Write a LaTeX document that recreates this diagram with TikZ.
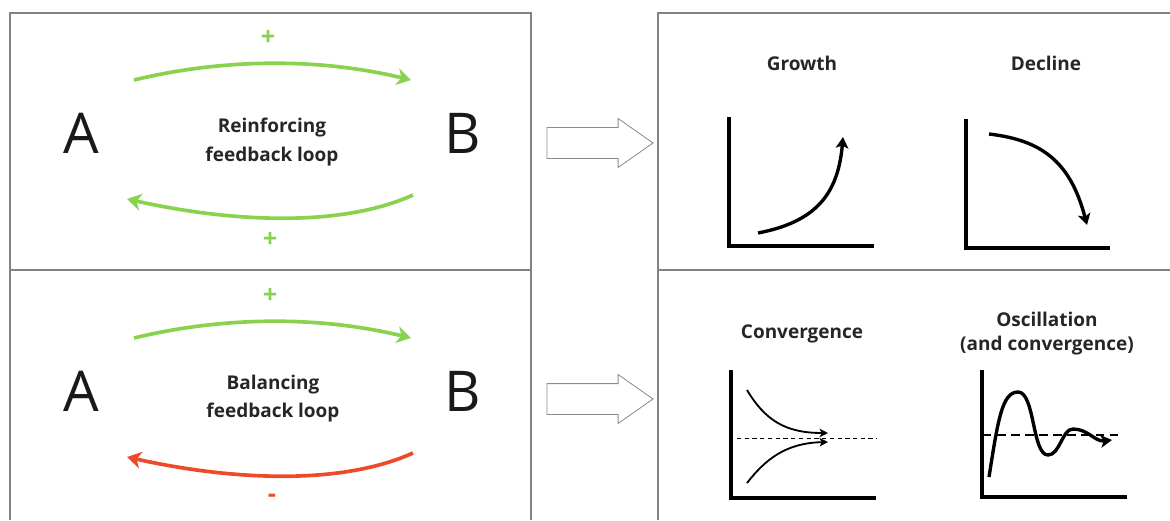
\documentclass[tikz,border=0pt]{standalone}
\usepackage{fontspec}
\setmainfont{Open Sans}
\usepackage{tikz}
\usetikzlibrary{arrows.meta, positioning, shapes.arrows}
\definecolor{loopgreen}{RGB}{136,210,80}
\definecolor{loopred}{RGB}{238,74,42}
\definecolor{framegray}{RGB}{130,130,130}
\tikzstyle{panel} = [draw=framegray, line width=0.8pt]
\tikzstyle{var} = [inner sep=0pt, font=\fontsize{40}{40}\selectfont, text=black!90]
\tikzstyle{title} = [inner sep=0pt, align=center, font=\bfseries\fontsize{13.5}{20}\selectfont, text=black!85]
\tikzstyle{sign} = [inner sep=0pt, font=\bfseries\fontsize{18}{18}\selectfont]
\tikzstyle{link} = [line width=2.6pt, -{Stealth[length=10pt, width=12pt, inset=3pt]}]
\tikzstyle{bigarrow} = [single arrow, draw=black!45, line width=0.6pt,
  inner xsep=0pt, inner ysep=0.375cm, minimum height=2.65cm,
  single arrow head extend=0.225cm, single arrow tip angle=70]
\tikzstyle{axis} = [line width=2.8pt]
\tikzstyle{trend} = [line width=2.4pt, -{Stealth[length=8pt, width=9pt, inset=2pt]}]
\tikzstyle{thin trend} = [line width=1.3pt, -{Stealth[length=6pt, width=6pt, inset=1.5pt]}]

\begin{document}
\begin{tikzpicture}[x=0.025cm, y=-0.025cm]
    \useasboundingbox (0,0) rectangle (1170,520);
    % frames
    \draw[panel] (10,520) -- (10,13) -- (531,13) -- (531,520);
    \draw[panel] (10,270) -- (531,270);
    \draw[panel] (658,520) -- (658,13) -- (1170,13);
    \draw[panel] (658,270) -- (1170,270);

    % reinforcing loop
    \node[var] (a1) at (81,133) {A};
    \node[var] (b1) at (463,133) {B};
    \node[title] (loop1) at (272,142) {Reinforcing\\feedback loop};
    \coordinate (a1out) at (134,80);
    \coordinate (b1in) at (411,80);
    \coordinate (b1out) at (413,195);
    \coordinate (a1in) at (127,199);
    \draw[link, loopgreen] (a1out) .. controls (225,58) and (320,58) .. (b1in);
    \draw[link, loopgreen] (b1out) .. controls (340,228) and (230,222) .. (a1in);
    \node[sign, loopgreen] (s1) at (268,38) {+};
    \node[sign, loopgreen] (s2) at (270,240) {+};

    % balancing loop
    \node[var] (a2) at (81,391) {A};
    \node[var] (b2) at (463,391) {B};
    \node[title] (loop2) at (273,399) {Balancing\\feedback loop};
    \coordinate (a2out) at (134,338);
    \coordinate (b2in) at (411,338);
    \coordinate (b2out) at (413,453);
    \coordinate (a2in) at (127,457);
    \draw[link, loopgreen] (a2out) .. controls (225,316) and (320,316) .. (b2in);
    \draw[link, loopred] (b2out) .. controls (340,486) and (230,480) .. (a2in);
    \node[sign, loopgreen] (s3) at (270,296) {+};
    \node[sign, loopred] (s4) at (272,498) {-};

    % arrows to behaviour
    \node[bigarrow] (arr1) at (589,143) {};
    \node[bigarrow] (arr2) at (589,399) {};

    % growth
    \node[title] (growth) at (802,63) {Growth};
    \draw[axis] (729,117) -- (729,246) -- (874,246);
    \draw[trend] (758,233) .. controls (815,222) and (838,195) .. (843,137);

    % decline
    \node[title] (decline) at (1046,63) {Decline};
    \draw[axis] (966,119) -- (966,248) -- (1110,248);
    \draw[trend] (989,134) .. controls (1040,140) and (1070,160) .. (1087,225);

    % convergence
    \node[title] (conv) at (802,334) {Convergence};
    \draw[axis] (731,370) -- (731,498) -- (876,498);
    \draw[dash pattern=on 3pt off 2.5pt, line width=0.6pt] (737,438) -- (877,438);
    \draw[thin trend] (747,390) .. controls (765,420) and (785,433) .. (828,433);
    \draw[thin trend] (747,483) .. controls (765,460) and (785,443) .. (828,442);

    % oscillation
    \node[title, font=\bfseries\fontsize{13.5}{17}\selectfont] (osc) at (1047,334) {Oscillation\\(and convergence)};
    \draw[axis] (982,370) -- (982,497) -- (1127,497);
    \draw[dash pattern=on 6pt off 4pt, line width=0.9pt] (983,435) -- (1123,435);
    \draw[trend] (989,477) .. controls (998,420) and (1002,392) .. (1018,392)
      .. controls (1035,392) and (1032,455) .. (1048,455)
      .. controls (1060,455) and (1062,429) .. (1073,429)
      .. controls (1088,429) and (1095,442) .. (1112,440);
  \end{tikzpicture}
\end{document}
